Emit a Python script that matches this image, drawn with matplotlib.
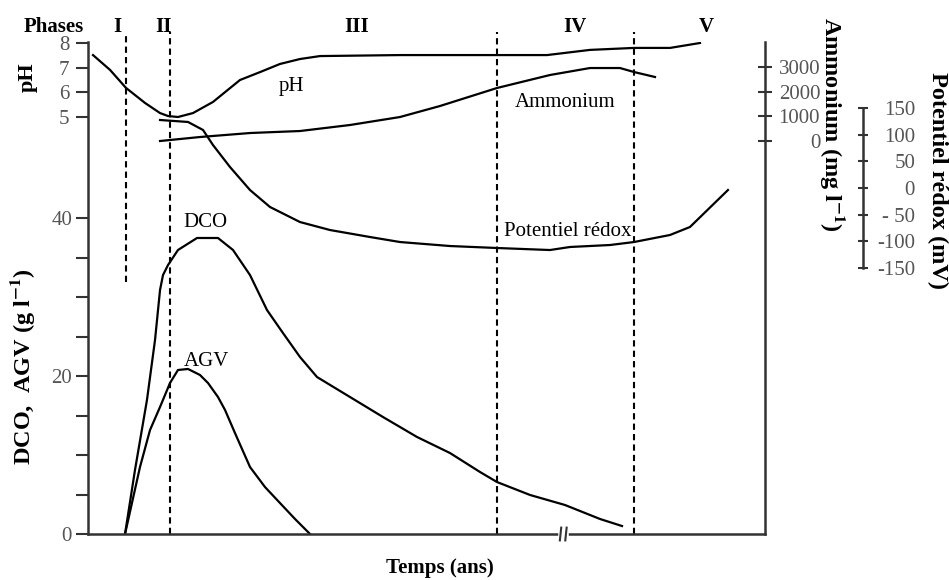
import matplotlib.pyplot as plt

plt.rcParams['font.family'] = ['Liberation Serif', 'DejaVu Serif']
plt.rcParams['mathtext.fontset'] = 'stix'

# ---------------------------------------------------------
# Data (time in arbitrary units, 0-100)
# ---------------------------------------------------------
dco_t = [5.47, 6.94, 8.71, 9.90, 10.64, 11.08, 11.82, 13.29, 16.10, 19.20, 21.42, 23.93,
         26.44, 28.80, 31.31, 33.83, 38.70, 43.57, 48.60, 53.47, 57.90, 60.41, 65.29,
         70.46, 75.63, 78.88]
dco = [0, 8.10, 16.96, 24.56, 30.89, 32.78, 34.05, 35.95, 37.47, 37.47, 35.95, 32.78,
       28.35, 25.44, 22.41, 19.87, 17.34, 14.81, 12.28, 10.25, 7.85, 6.58, 4.94,
       3.67, 1.90, 1.01]

agv_t = [5.47, 7.68, 9.16, 10.64, 12.11, 13.29, 14.77, 16.54, 17.73, 19.20, 20.24, 21.71,
         23.93, 26.14, 28.36, 30.58, 32.79]
agv = [0, 8.48, 13.16, 16.08, 19.11, 20.76, 20.89, 20.13, 19.11, 17.34, 15.70, 12.78,
       8.48, 5.95, 3.92, 1.90, 0]

ph_t = [0.74, 3.25, 5.61, 8.42, 10.64, 11.82, 13.29, 15.51, 18.46, 22.45, 25.41,
        28.36, 31.31, 34.27, 46.09, 67.80, 74.15, 80.65, 85.97, 90.40]
ph = [7.51, 6.91, 6.18, 5.57, 5.16, 5.04, 5.00, 5.16, 5.61, 6.50, 6.82,
      7.15, 7.35, 7.47, 7.51, 7.51, 7.72, 7.80, 7.80, 8.00]

nh4_t = [10.64, 16.54, 23.93, 31.31, 38.70, 46.09, 51.99, 60.41, 68.24, 74.15,
         78.58, 80.65, 83.75]
nh4 = [0, 162, 324, 405, 649, 973, 1419, 2149, 2676, 2959, 2959, 2797, 2595]

redox_t = [10.64, 14.77, 16.99, 18.46, 20.97, 23.93, 26.88, 31.31, 35.75, 41.65,
           46.09, 53.47, 60.41, 68.24, 71.20, 77.10, 80.65, 85.97, 88.92, 94.53]
redox = [127.5, 123.8, 108.8, 80.6, 39.4, -3.8, -35.6, -63.8, -78.8, -91.9,
         -101.3, -108.8, -112.5, -116.3, -110.6, -106.9, -101.3, -88.1, -73.1, -3.8]

phase_names = ['I', 'II', 'III', 'IV', 'V']
phase_label_t = [4.4, 11.1, 39.7, 71.9, 91.4]
phase_limits = [5.6, 12.1, 60.4, 80.6]

main_ticks = [0, 5, 10, 15, 20, 25, 30, 35, 40]
main_ticklabels = ['0', '', '', '', '20', '', '', '', '40']
ph_ticks = [5, 6, 7, 8]
nh4_ticks = [0, 1000, 2000, 3000]
redox_ticks = [-150, -100, -50, 0, 50, 100, 150]
redox_ticklabels = ['-150', '-100', '- 50', '0', '50', '100', '150']

# ---------------------------------------------------------
# Figure
# ---------------------------------------------------------
W, H = 949, 580
fig = plt.figure(figsize=(W / 100, H / 100), dpi=100)
ax = fig.add_axes([88 / W, 46 / H, 677 / W, 492 / H])

spine_c = '#333333'
lab_c = '#555555'
fs = 15

ax.set_xlim(0, 100)
ax.set_ylim(0, 62.28)
ax.spines['top'].set_visible(False)
for s in ['left', 'bottom', 'right']:
    ax.spines[s].set_color(spine_c)
    ax.spines[s].set_linewidth(1.8)
ax.set_xticks([])
ax.set_yticks(main_ticks)
ax.set_yticklabels(main_ticklabels)
ax.tick_params(axis='y', direction='out', length=8.5, width=1.5, color=spine_c,
               labelsize=fs, labelcolor=lab_c, pad=3)

ax.plot(dco_t, dco, color='black', lw=1.6)
ax.plot(agv_t, agv, color='black', lw=1.6)
ax.text(17.3, 39.4, 'DCO', fontsize=fs, ha='center', va='center')
ax.text(17.5, 21.8, 'AGV', fontsize=fs, ha='center', va='center')

# pH (left, upper part)
ax_ph = ax.twinx()
ax_ph.set_ylim(-11.90, 8.04)
for s in ax_ph.spines.values():
    s.set_visible(False)
ax_ph.yaxis.tick_left()
ax_ph.set_yticks(ph_ticks)
ax_ph.tick_params(axis='y', direction='out', length=8.5, width=1.5, color=spine_c,
                  labelsize=fs, labelcolor=lab_c, pad=5)
ax_ph.plot(ph_t, ph, color='black', lw=1.6)
ax_ph.text(30.1, 6.22, 'pH', fontsize=fs, ha='center', va='center')

# Ammonium (right spine)
ax_nh = ax.twinx()
ax_nh.set_ylim(-15932, 4014)
for s in ax_nh.spines.values():
    s.set_visible(False)
ax_nh.set_yticks(nh4_ticks)
ax_nh.tick_params(axis='y', direction='inout', length=9.4, width=1.5, color=spine_c,
                  labelsize=fs, labelcolor=lab_c, pad=35)
plt.setp(ax_nh.get_yticklabels(), ha='right')
ax_nh.plot(nh4_t, nh4, color='black', lw=1.6)
ax_nh.text(70.5, 1581, 'Ammonium', fontsize=fs, ha='center', va='center')

# Redox (offset spine)
ax_rx = ax.twinx()
ax_rx.set_ylim(-648.75, 273.75)
for s in ['left', 'top', 'bottom']:
    ax_rx.spines[s].set_visible(False)
ax_rx.spines['right'].set_position(('axes', 775 / 677))
ax_rx.spines['right'].set_bounds(-150, 150)
ax_rx.spines['right'].set_color(spine_c)
ax_rx.spines['right'].set_linewidth(1.8)
ax_rx.set_yticks(redox_ticks)
ax_rx.set_yticklabels(redox_ticklabels)
ax_rx.tick_params(axis='y', direction='inout', length=7, width=1.5, color=spine_c,
                  labelsize=fs, labelcolor=lab_c, pad=34)
plt.setp(ax_rx.get_yticklabels(), ha='right')
ax_rx.plot(redox_t, redox, color='black', lw=1.6)
ax_rx.text(70.8, -82.5, 'Potentiel rédox', fontsize=fs, ha='center', va='center')

# Phase limits and names
tr = ax.get_xaxis_transform()
for i, t in enumerate(phase_limits):
    y0 = 0.512 if i == 0 else 0
    ax.plot([t, t], [y0, 1.02], transform=tr, color='black', lw=1.5,
            linestyle=(0, (3, 2)), clip_on=False)
for name, t in zip(phase_names, phase_label_t):
    ax.text(t, 1.0305, name, transform=tr, fontsize=fs, fontweight='bold',
            ha='center', va='center')

# Axis break on time axis
ax.plot([69.8, 70.6], [0, 0], transform=tr, color='white', lw=4, zorder=5, clip_on=False)
for t in [69.8, 70.6]:
    ax.plot([t - 0.1, t + 0.1], [-0.013, 0.013], transform=tr, color=spine_c, lw=1.5,
            zorder=6, clip_on=False)

# Labels
fig.text(54 / W, 1 - 27 / H, 'Phases', fontsize=fs, fontweight='bold', ha='center', va='center')
fig.text(28 / W, 1 - 77 / H, 'pH', fontsize=16, fontweight='bold', rotation=90,
         ha='center', va='center')
fig.text(23 / W, 1 - 367 / H, r'DCO,  AGV (g l$^{\mathbf{-1}}$)', fontsize=17.5,
         fontweight='bold', rotation=90, ha='center', va='center')
fig.text(440 / W, 1 - 568 / H, 'Temps (ans)', fontsize=fs, fontweight='bold',
         ha='center', va='center')
fig.text(833 / W, 1 - 124 / H, r'Ammonium (mg l$^{\mathbf{-1}}$)', fontsize=17.5,
         fontweight='bold', rotation=270, ha='center', va='center')
fig.text(938 / W, 1 - 180 / H, 'Potentiel rédox (mV)', fontsize=17.5,
         fontweight='bold', rotation=270, ha='center', va='center')

plt.savefig('out.png', dpi=100)
